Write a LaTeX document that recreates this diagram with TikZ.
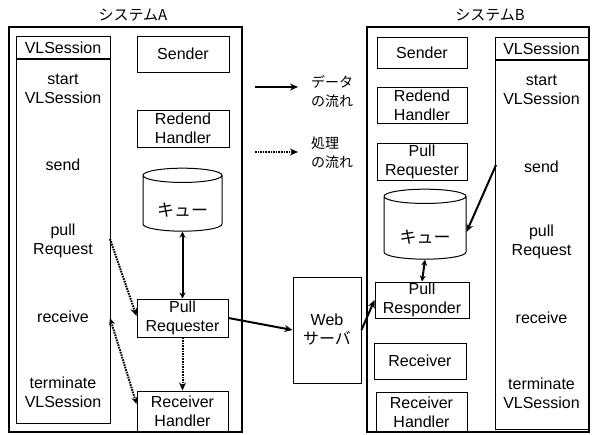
\documentclass[tikz,border=0pt]{standalone}
\usepackage{fontspec}
\setmainfont{Liberation Sans}
\newfontfamily\jp{Noto Sans CJK JP}
\usetikzlibrary{shapes.geometric,arrows.meta}
\begin{document}
\begin{tikzpicture}[x=1pt,y=-1pt,
  outer/.style={draw, line width=1.4pt, inner sep=0pt},
  box/.style={draw, line width=1pt, align=center, inner sep=0pt, font=\fontsize{16}{19}\selectfont},
  lbl/.style={align=center, inner sep=0pt, font=\fontsize{16}{19}\selectfont},
  jlbl/.style={align=left, inner sep=0pt, font=\jp\fontsize{14}{19}\selectfont},
  cyl/.style={draw, line width=1pt, cylinder, shape border rotate=90, aspect=0.28, inner sep=0pt, font=\jp\fontsize{17}{19}\selectfont},
  cyltext/.style={inner sep=0pt, font=\jp\fontsize{17}{19}\selectfont},
  data/.style={line width=2pt, -{Stealth[length=8pt,width=7pt]}},
  datab/.style={line width=2pt, {Stealth[length=6pt,width=6pt]}-{Stealth[length=6pt,width=6pt]}},
  proc/.style={line width=2pt, dash pattern=on 1.6pt off 1pt, -{Stealth[length=8pt,width=7pt]}},
  procb/.style={line width=2pt, dash pattern=on 1.6pt off 1pt, {Stealth[length=7pt,width=6pt]}-{Stealth[length=7pt,width=6pt]}}
]
\useasboundingbox (0,0) rectangle (592,434);
% titles
\node[font=\jp\fontsize{15}{18}\selectfont] (tA) at (133,15) {システムA};
\node[font=\jp\fontsize{15}{18}\selectfont] (tB) at (490,15) {システムB};
% outer boxes
\node[outer, minimum width=233pt, minimum height=405pt] (sysA) at (125.5,229.5) {};
\node[outer, minimum width=222pt, minimum height=405pt] (sysB) at (478,229.5) {};
% System A
\node[box, minimum width=94pt, minimum height=387pt] (vlA) at (63,229.5) {};
\draw[line width=1.6pt] (vlA.west |- 0,59) -- (vlA.east |- 0,59);
\node[lbl] (vlAh) at (63,48) {VLSession};
\node[lbl] (a1) at (63,89) {start\\VLSession};
\node[lbl] (a2) at (63,165) {send};
\node[lbl] (a3) at (63,241) {pull\\Request};
\node[lbl] (a4) at (63,317) {receive};
\node[lbl] (a5) at (63,392) {terminate\\VLSession};
\node[box, minimum width=92pt, minimum height=36pt] (sdA) at (183,54) {Sender};
\node[box, minimum width=92pt, minimum height=37pt] (rdA) at (183,128.5) {Redend\\Handler};
\node[cyl, minimum width=79pt, minimum height=63pt] (cyA) at (182.5,203.5) {\phantom{キュー}};
\node[cyltext] (cyAt) at (182.5,210) {キュー};
\node[box, minimum width=91pt, minimum height=38pt] (prA) at (182.5,318) {Pull\\Requester};
\node[box, minimum width=91pt, minimum height=40pt] (rhA) at (182.5,411) {Receiver\\Handler};
% Web server
\node[box, minimum width=68pt, minimum height=106pt] (web) at (327,330) {Web\\{\jp サーバ}};
% System B
\node[box, minimum width=93pt, minimum height=392pt] (vlB) at (541.5,233) {};
\draw[line width=1.6pt] (vlB.west |- 0,60) -- (vlB.east |- 0,60);
\node[lbl] (vlBh) at (541.5,49) {VLSession};
\node[lbl] (b1) at (541.5,89.5) {start\\VLSession};
\node[lbl] (b2) at (541.5,167) {send};
\node[lbl] (b3) at (541.5,242) {pull\\Request};
\node[lbl] (b4) at (541.5,318) {receive};
\node[lbl] (b5) at (541.5,393.5) {terminate\\VLSession};
\node[box, minimum width=90pt, minimum height=31pt] (sdB) at (422,52.5) {Sender};
\node[box, minimum width=90pt, minimum height=36pt] (rdB) at (422,105) {Redend\\Handler};
\node[box, minimum width=90pt, minimum height=37pt] (pqB) at (422,161.5) {Pull\\Requester};
\node[cyl, minimum width=82pt, minimum height=70pt] (cyB) at (425,228) {\phantom{キュー}};
\node[cyltext] (cyBt) at (425,237) {キュー};
\node[box, minimum width=94pt, minimum height=36pt] (prB) at (422,300) {Pull\\Responder};
\node[box, minimum width=92pt, minimum height=36pt] (rcB) at (420,361) {Receiver};
\node[box, minimum width=91pt, minimum height=40pt] (rhB) at (421.5,412) {Receiver\\Handler};
% legend
\coordinate (l1s) at (255,87); \coordinate (l1e) at (298,87);
\coordinate (l2s) at (255,152); \coordinate (l2e) at (298,152);
\draw[data] (l1s) -- (l1e);
\draw[proc] (l2s) -- (l2e);
\node[jlbl, anchor=west] (lg1) at (311,92) {データ\\の流れ};
\node[jlbl, anchor=west] (lg2) at (311,153) {処理\\の流れ};
% connectors
\coordinate (pA) at (110,239);
\coordinate (rA) at (110,318);
\coordinate (sB) at (496,165);
\draw[datab] (cyA.south) -- (prA.north);
\draw[proc] (pA) -- ([yshift=2pt]prA.west);
\draw[procb] (rA) -- ([yshift=7pt]rhA.west);
\draw[proc] (prA.south) -- (rhA.north);
\draw[data] (prA.east) -- (web.west);
\draw[data] (web.east) -- (prB.west);
\draw[datab] (cyB.south) -- (prB.north);
\draw[data] (sB) -- ([yshift=-4pt]cyB.east);
\end{tikzpicture}
\end{document}
